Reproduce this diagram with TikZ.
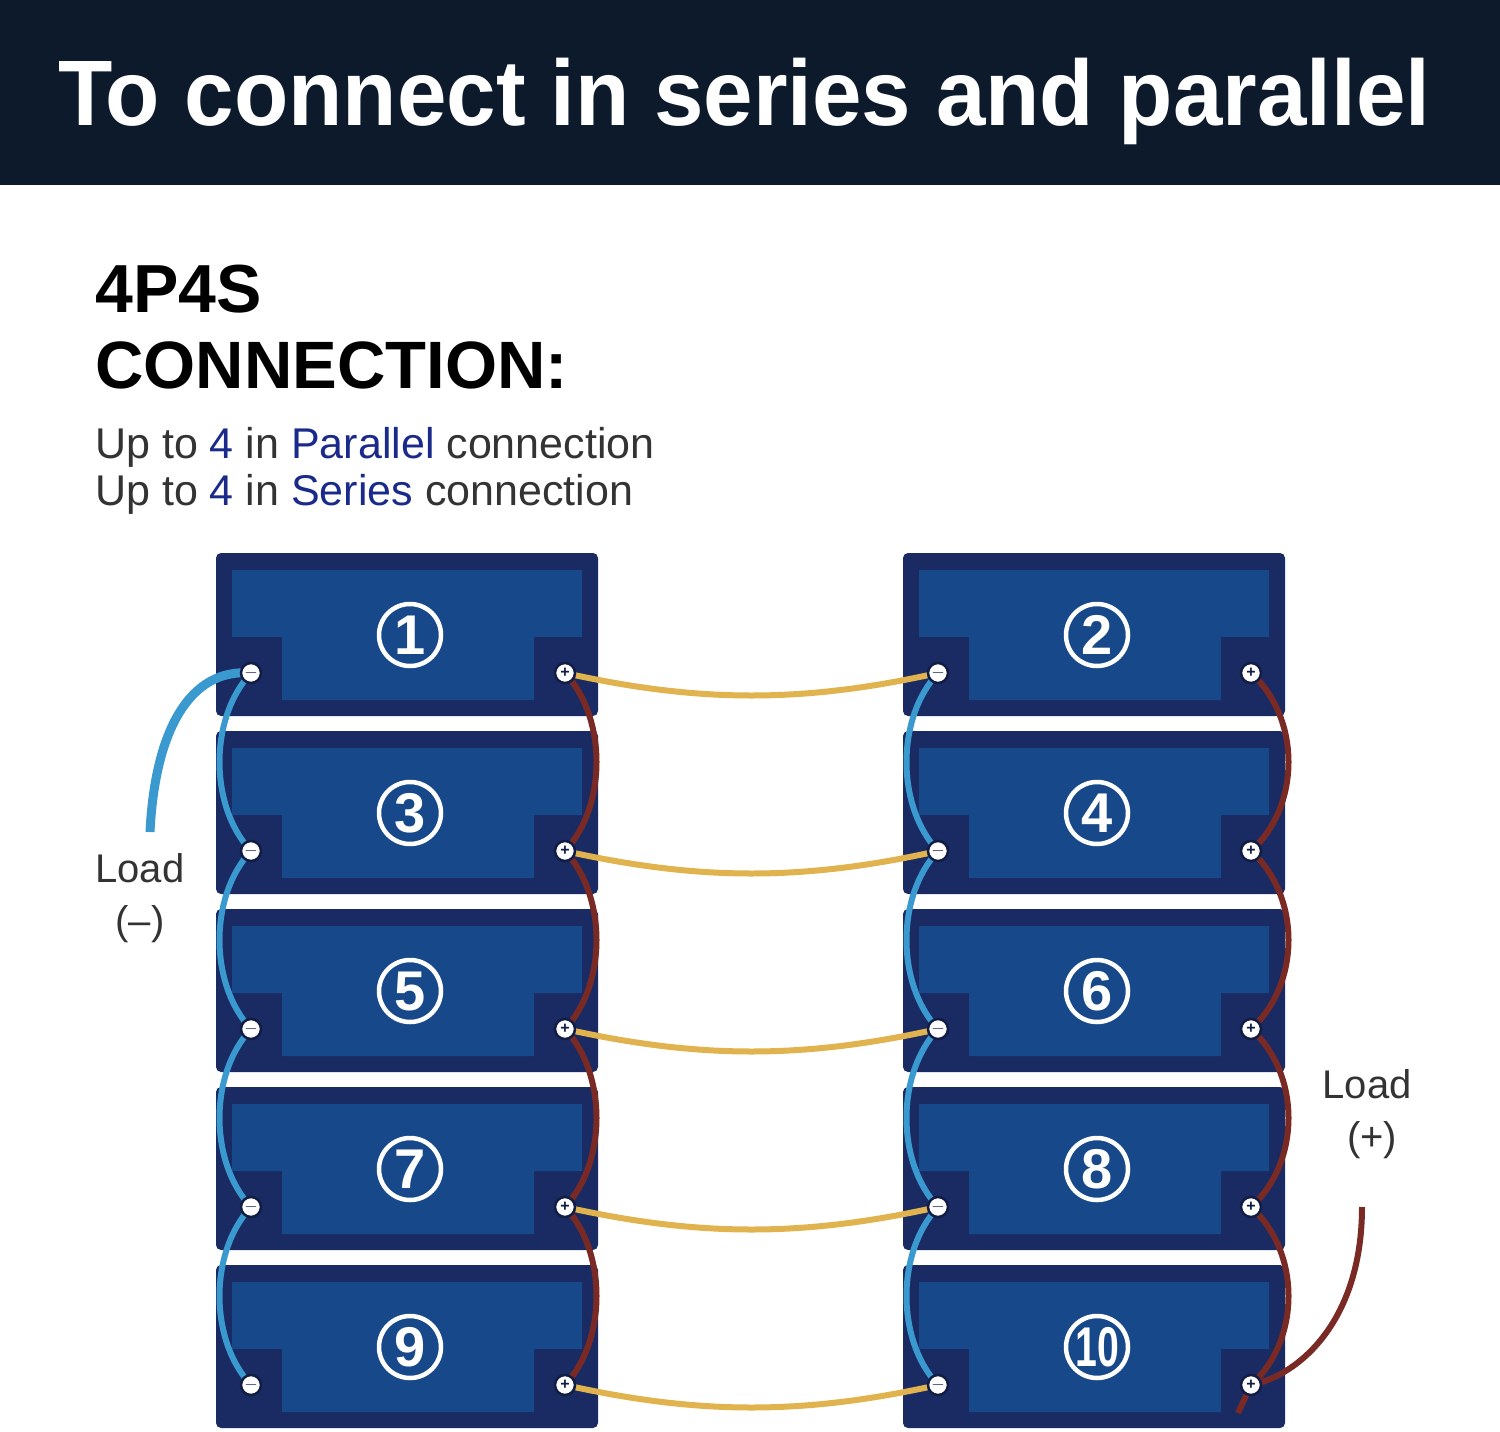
\documentclass[tikz,border=0pt]{standalone}
\usepackage{fontspec}
\setmainfont{Liberation Sans}
\newfontfamily\numfont{Liberation Sans}
\definecolor{headbg}{HTML}{0C1A2C}
\definecolor{batout}{HTML}{1A2A62}
\definecolor{batin}{HTML}{16488A}
\definecolor{wireY}{HTML}{E0B34E}
\definecolor{wireB}{HTML}{3A9AD0}
\definecolor{wireR}{HTML}{7A2A24}
\definecolor{txtgray}{HTML}{333333}
\definecolor{txtblue}{HTML}{1A2A8A}
\tikzset{
  term/.style={circle,fill=white,draw=batout!70!black,line width=2.5pt,minimum size=20pt,inner sep=0pt,font=\bfseries\fontsize{16}{16}\selectfont,text=batout!70!black},
  numcirc/.style={circle,draw=white,line width=4.5pt,minimum size=62pt,inner sep=0pt,text=white,font=\numfont\bfseries\fontsize{56}{56}\selectfont},
  ywire/.style={draw=wireY,line width=6pt},
  bwire/.style={draw=wireB,line width=6pt},
  rwire/.style={draw=wireR,line width=6pt},
  lbl/.style={text=txtgray,font=\fontsize{40}{40}\selectfont}
}
\newcommand{\battery}[2]{% x, top
  \fill[batout,rounded corners=5pt] (#1,#2) rectangle ++(382,163);
  \fill[batin] (#1+16,#2+17) -- (#1+366,#2+17) -- (#1+366,#2+84) -- (#1+318,#2+84) -- (#1+318,#2+147) -- (#1+66,#2+147) -- (#1+66,#2+84) -- (#1+16,#2+84) -- cycle;
}
\begin{document}
\begin{tikzpicture}[x=1pt,y=-1pt]
\useasboundingbox (0,0) rectangle (1500,1432);
\fill[white] (0,0) rectangle (1500,1432);
% header
\fill[headbg] (0,0) rectangle (1500,185);
\node[anchor=base west,inner sep=0pt,text=white] (title) at (58,125) {\resizebox{1372pt}{\height}{\bfseries\fontsize{93}{93}\selectfont To connect in series and parallel}};
% headings
\node[anchor=base west,inner sep=0pt,text=black,font=\bfseries\fontsize{68}{68}\selectfont] (h1) at (95,312) {4P4S};
\node[anchor=base west,inner sep=0pt,text=black,font=\bfseries\fontsize{67}{67}\selectfont] (h2) at (95,388) {CONNECTION:};
\node[anchor=base west,inner sep=0pt,text=txtgray,font=\fontsize{43}{43}\selectfont] (l1) at (95,458) {Up to \textcolor{txtblue}{4} in \textcolor{txtblue}{Parallel} connection};
\node[anchor=base west,inner sep=0pt,text=txtgray,font=\fontsize{43}{43}\selectfont] (l2) at (95,505) {Up to \textcolor{txtblue}{4} in \textcolor{txtblue}{Series} connection};
% batteries
\foreach \t in {553,731,909,1087,1265}{
  \battery{216}{\t}
  \battery{903}{\t}
}
% numbers
\foreach \t/\a/\b in {553/1/2,731/3/4,909/5/6,1087/7/8}{
  \node[numcirc] (n\a) at (410,\t+82) {\a};
  \node[numcirc] (n\b) at (1097,\t+82) {\b};
}
\node[numcirc] (n9) at (410,1347) {9};
\node[numcirc] (n10) at (1097,1347) {\scalebox{0.7}[1]{10}};
% terminal positions
\foreach \r/\y in {1/673,2/851,3/1029,4/1207,5/1385}{
  \coordinate (lm\r) at (251,\y);
  \coordinate (lp\r) at (565,\y);
  \coordinate (rm\r) at (938,\y);
  \coordinate (rp\r) at (1251,\y);
}
% series (yellow) wires
\foreach \r in {1,...,5}{
  \draw[ywire] (lp\r) .. controls ++(135,30) and ++(-135,30) .. (rm\r);
}
% parallel wires
\foreach \r/\s in {1/2,2/3,3/4,4/5}{
  \draw[bwire] (lm\r) .. controls ++(-42,45) and ++(-42,-45) .. (lm\s);
  \draw[rwire] (lp\r) .. controls ++(42,45) and ++(42,-45) .. (lp\s);
  \draw[bwire] (rm\r) .. controls ++(-42,45) and ++(-42,-45) .. (rm\s);
  \draw[rwire] (rp\r) .. controls ++(50,45) and ++(50,-45) .. (rp\s);
}
% load wires
\coordinate (ldm) at (150,832);
\coordinate (ldp) at (1362,1207);
\coordinate (ldpend) at (1238,1413);
\draw[draw=wireB,line width=9pt] (lm1) .. controls (190,668) and (155,730) .. (ldm);
\draw[draw=wireR,line width=6pt] (ldp) .. controls (1362,1320) and (1300,1375) .. (rp5) -- (ldpend);
% terminals on top
\foreach \r in {1,...,5}{
  \node[term] (tlm\r) at (lm\r) {$-$};
  \node[term] (tlp\r) at (lp\r) {+};
  \node[term] (trm\r) at (rm\r) {$-$};
  \node[term] (trp\r) at (rp\r) {+};
}
% load labels
\node[lbl,anchor=base] (loadm) at (140,882) {Load};
\node[lbl,anchor=base] (loadmsign) at (140,934) {(–)};
\node[lbl,anchor=base] (loadp) at (1367,1098) {Load};
\node[lbl,anchor=base] (loadpsign) at (1372,1150) {(+)};
\end{tikzpicture}
\end{document}
